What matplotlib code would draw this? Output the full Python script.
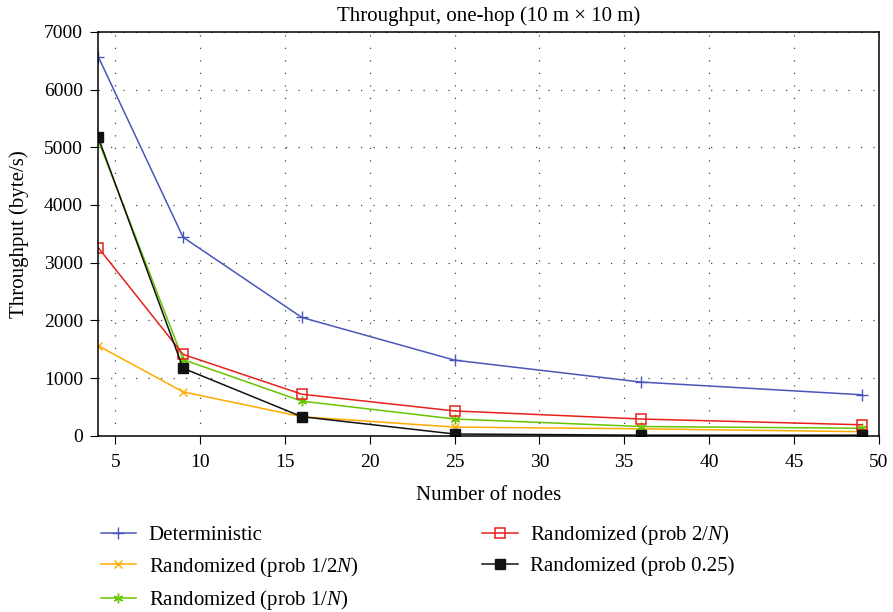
import numpy as np
import matplotlib
matplotlib.use("Agg")
import matplotlib.pyplot as plt

plt.rcParams['font.family'] = ['Liberation Serif', 'DejaVu Serif']
plt.rcParams['mathtext.fontset'] = 'custom'
plt.rcParams['mathtext.it'] = 'Liberation Serif:italic'
plt.rcParams['mathtext.rm'] = 'Liberation Serif'

# Nombre de noeuds et débits mesurés
nodes = [4, 9, 16, 25, 36, 49]
deterministic = [6570, 3440, 2050, 1310, 930, 710]
rand_half_n = [1560, 760, 330, 150, 120, 70]
rand_one_n = [5120, 1320, 600, 290, 160, 130]
rand_two_n = [3260, 1410, 720, 430, 290, 190]
rand_025 = [5170, 1170, 330, 30, 10, 10]

labels = ['Deterministic', 'Randomized (prob 1/2$N$)', 'Randomized (prob 1/$N$)',
          'Randomized (prob 2/$N$)', 'Randomized (prob 0.25)']

fig = plt.figure(figsize=(8.93, 6.12), dpi=100)
ax = fig.add_axes([0.11, 0.288, 0.874, 0.66])

ax.plot(nodes, deterministic, '-', color='#4a56b8', marker='+', ms=8, mew=1, lw=1.1, label=labels[0])
ax.plot(nodes, rand_half_n, '-', color='#ffaa00', marker='x', ms=6, mew=1, lw=1.1, label=labels[1])
ax.plot(nodes, rand_one_n, '-', color='#66c400', marker=(6, 2, 0), ms=7, mew=1, lw=1.1, label=labels[2])
ax.plot(nodes, rand_two_n, '-', color='#e8201c', marker='s', ms=6.5, mfc='none', mew=1.1, lw=1.1, label=labels[3])
ax.plot(nodes, rand_025, '-', color='#111111', marker='s', ms=7, lw=1.1, label=labels[4])

ax.set_xlim(4, 50)
ax.set_ylim(0, 7000)
ax.set_xticks(np.arange(5, 51, 5))
ax.set_yticks(np.arange(0, 7001, 1000))
ax.grid(True, linestyle=(0, (1, 9)), color='#444444', lw=0.9)
ax.tick_params(direction='out', labelsize=14, length=6, top=False, right=False)
ax.tick_params(axis='x', pad=7)
ax.tick_params(axis='y', pad=5)
for s in ax.spines.values():
    s.set_linewidth(1.1)

ax.set_title('Throughput, one-hop (10 m × 10 m)', fontsize=15, pad=8)
ax.set_xlabel('Number of nodes', fontsize=15, labelpad=11)
ax.set_ylabel('Throughput (byte/s)', fontsize=15, labelpad=11)

ax.legend(ncol=2, loc='upper left', bbox_to_anchor=(-0.021, -0.17), frameon=False,
          fontsize=15, handlelength=1.7, handletextpad=0.6, columnspacing=5.95,
          labelspacing=0.45)

fig.savefig('out.png')
